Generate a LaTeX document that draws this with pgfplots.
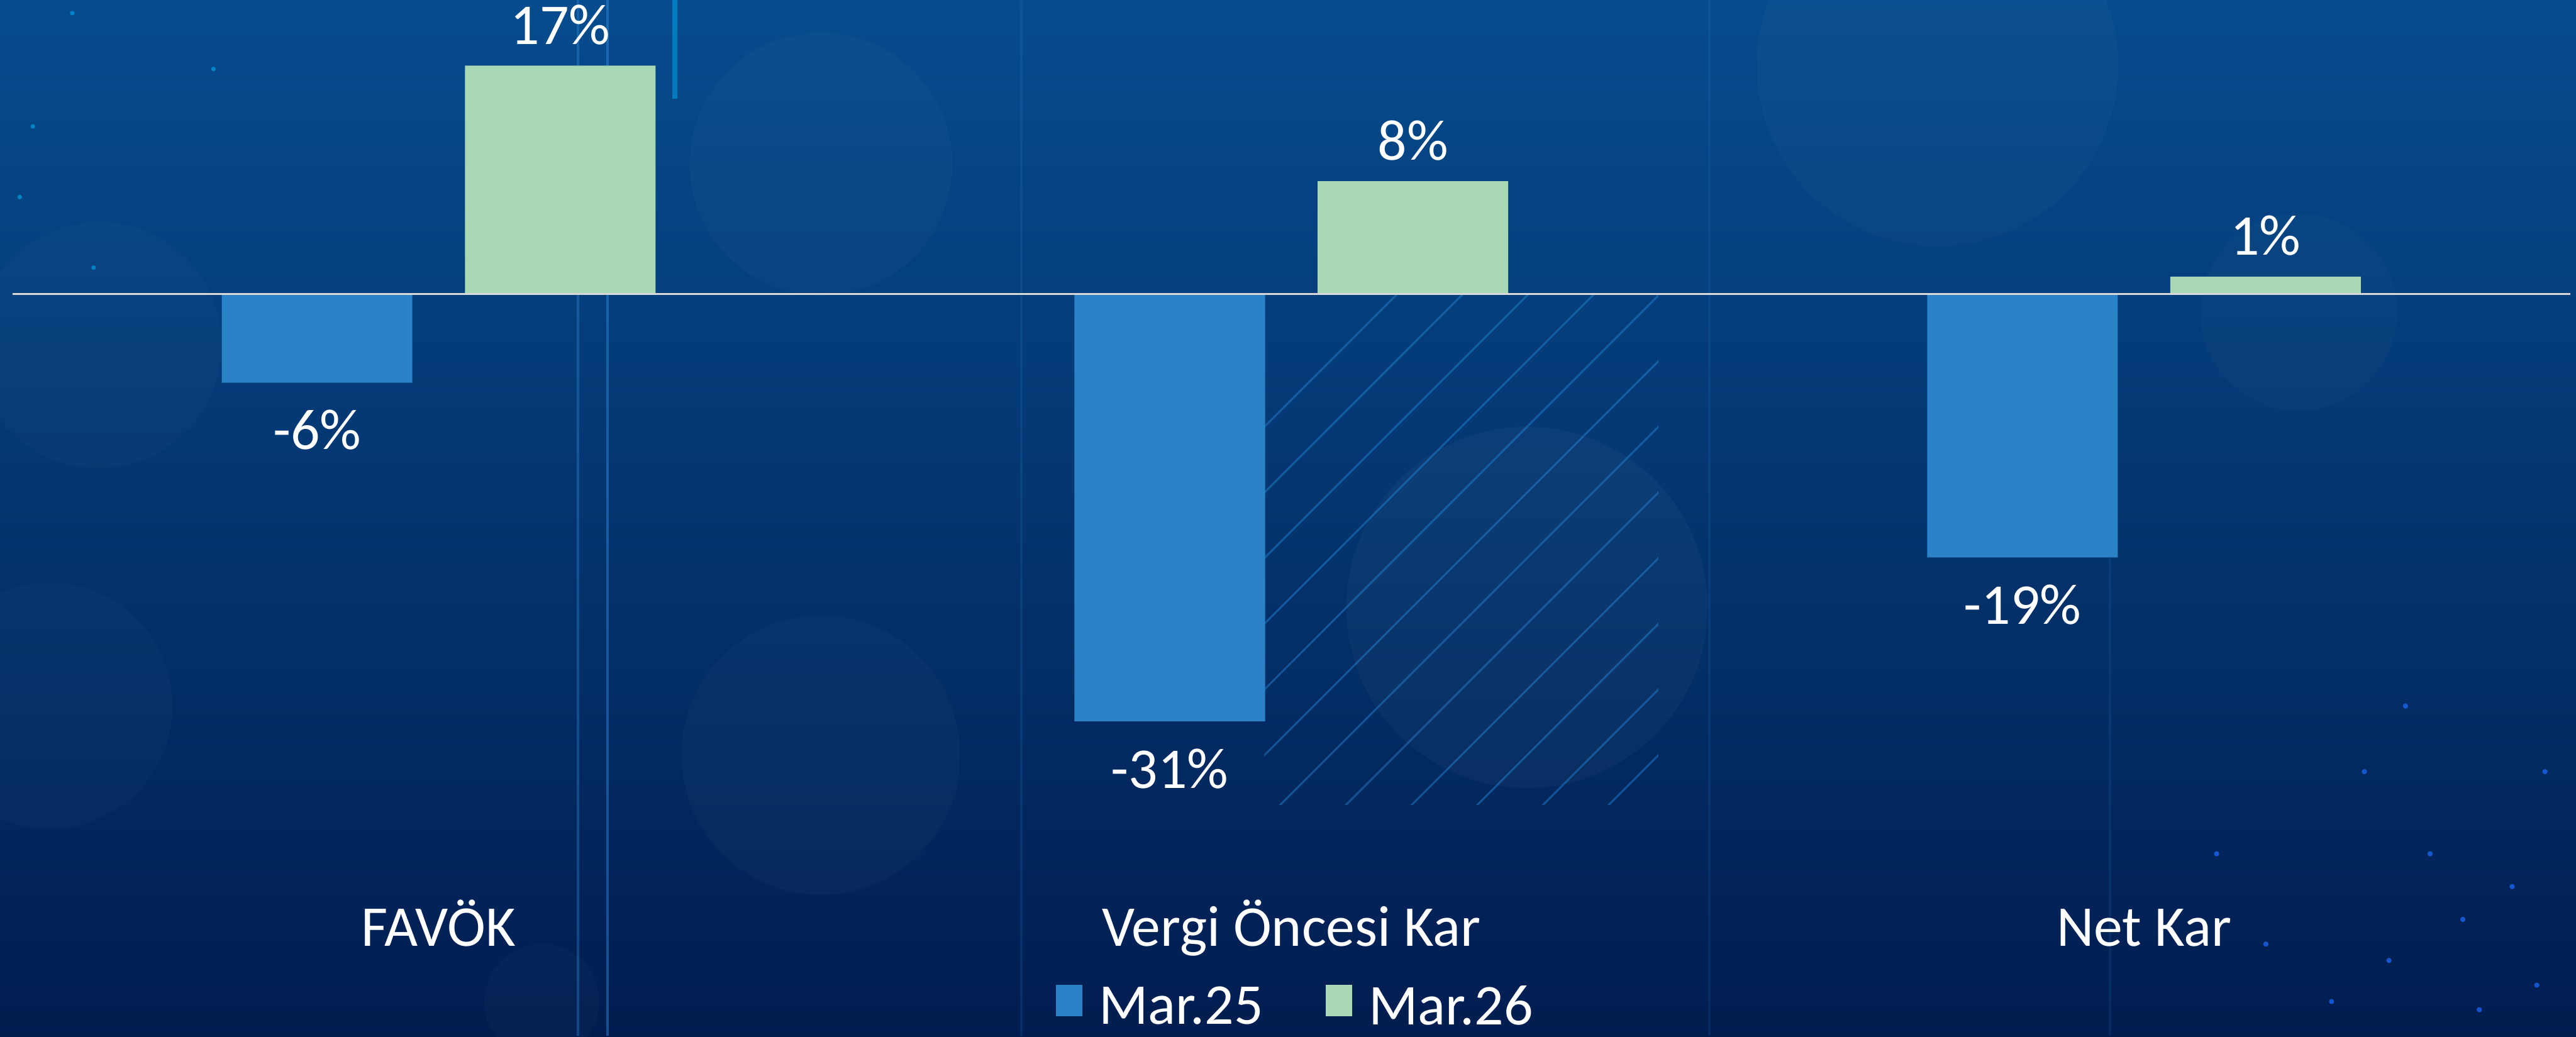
\documentclass[border=0pt]{standalone}
\usepackage{fontspec}
\setmainfont{Carlito}
\usepackage{pgfplots}
\usepackage{pgfplotstable}
\pgfplotsset{compat=1.18}
\definecolor{barblue}{HTML}{2983C6}
\definecolor{bargreen}{HTML}{A9D8B7}
\definecolor{bgtop}{HTML}{064C8E}
\definecolor{bgmid}{HTML}{03377A}
\definecolor{bgbot}{HTML}{011D50}
\definecolor{zline}{HTML}{D9D9D9}
\definecolor{glow}{HTML}{2F8FE0}
\definecolor{dotblue}{HTML}{1F6BFF}

\pgfplotstableread{
x y lbl
0 -6.6 -6
1 -31.8 -31
2 -19.6 -19
}\mara
\pgfplotstableread{
x y lbl
0 17.0 17
1 8.4 8
2 1.3 1
}\marb

\begin{document}
\begin{tikzpicture}
\useasboundingbox (0,0) rectangle (15.68,6.31);
\clip (0,0) rectangle (15.68,6.31);
% background (picture box: 15.68cm x 6.31cm)
\shade[top color=bgtop, middle color=bgmid, bottom color=bgbot] (0,0) rectangle (15.68,6.31);
\begin{scope}[x=0.01cm, y=-0.01cm, yshift=6.31cm]
  % bokeh circles
  \fill[white, opacity=0.025] (1180,40) circle (110);
  \fill[white, opacity=0.025] (500,100) circle (80);
  \fill[white, opacity=0.02] (60,210) circle (75);
  \fill[white, opacity=0.03] (930,370) circle (110);
  \fill[white, opacity=0.025] (500,460) circle (85);
  \fill[white, opacity=0.02] (30,430) circle (75);
  \fill[white, opacity=0.02] (1400,190) circle (60);
  \fill[white, opacity=0.02] (330,610) circle (35);
  % vertical streaks
  \draw[glow, opacity=0.35, line width=0.4pt] (352,0) -- (352,631);
  \draw[glow, opacity=0.45, line width=0.5pt] (370,0) -- (370,631);
  \draw[cyan, opacity=0.5, line width=0.8pt] (411,0) -- (411,60);
  \draw[glow, opacity=0.15, line width=0.4pt] (622,0) -- (622,631);
  \draw[glow, opacity=0.12, line width=0.4pt] (1041,0) -- (1041,631);
  \draw[glow, opacity=0.12, line width=0.4pt] (1285,180) -- (1285,631);
  % diagonal light lines
  \begin{scope}
    \clip (770,180) rectangle (1010,490);
    \foreach \s in {0,40,...,520} {
      \draw[glow, opacity=0.4, line width=0.35pt] (770+\s-300,560) -- (770+\s+100,160);
    }
  \end{scope}
  % small dots
  \foreach \p in {(1480,520),(1500,560),(1530,540),(1455,585),(1545,600),(1420,610),(1510,615),(1380,575),(1440,470),(1550,470),(1465,430),(1350,520)} {
    \fill[dotblue, opacity=0.7] \p circle (1.6);
  }
  \foreach \p in {(12,120),(44,8),(20,77),(57,163),(130,42)} {
    \fill[cyan, opacity=0.6] \p circle (1.4);
  }
\end{scope}

\begin{axis}[
  scale only axis,
  width=15.68cm, height=6.31cm,
  at={(0,0)}, anchor=south west,
  xmin=-0.5145, xmax=2.5067,
  ymin=-55.26, ymax=21.88,
  axis line style={draw=none},
  ytick=\empty,
  xtick={0,1,2},
  xticklabels={FAVÖK, Vergi Öncesi Kar, Net Kar},
  major tick length=0pt,
  xticklabel style={anchor=base, yshift=5.5mm, text=white, font=\fontsize{10}{12}\selectfont},
  ybar, bar width=0.2235,
  point meta=explicit symbolic,
  nodes near coords={\pgfplotspointmeta\%},
  every node near coord/.append style={text=white, font=\fontsize{10}{12}\selectfont, inner xsep=0pt, inner ysep=1.4mm},
  legend columns=2,
  legend style={at={(0.5048,0.026)}, anchor=center, draw=none, fill=none, text=white,
    font=\fontsize{10}{12}\selectfont,
    /tikz/every even column/.append style={column sep=3.1mm},
    /tikz/every odd column/.append style={column sep=0.3mm}},
  legend image code/.code={\fill[#1] (0mm,-0.4mm) rectangle (1.6mm,1.5mm);},
  clip=false,
]
\addplot[fill=barblue, draw=none, bar shift=-0.1426,
  every node near coord/.append style={anchor=north, inner ysep=1.6mm}]
  table[x=x, y=y, meta=lbl]{\mara};
\addlegendentry{Mar.25}
\addplot[fill=bargreen, draw=none, bar shift=0.1426,
  every node near coord/.append style={anchor=south, inner ysep=1.2mm}]
  table[x=x, y=y, meta=lbl]{\marb};
\addlegendentry{Mar.26}
\addplot[sharp plot, draw=zline, line width=0.35pt, nodes near coords={}, forget plot] coordinates {(-0.5,0) (2.5,0)};
\end{axis}
\end{tikzpicture}
\end{document}
